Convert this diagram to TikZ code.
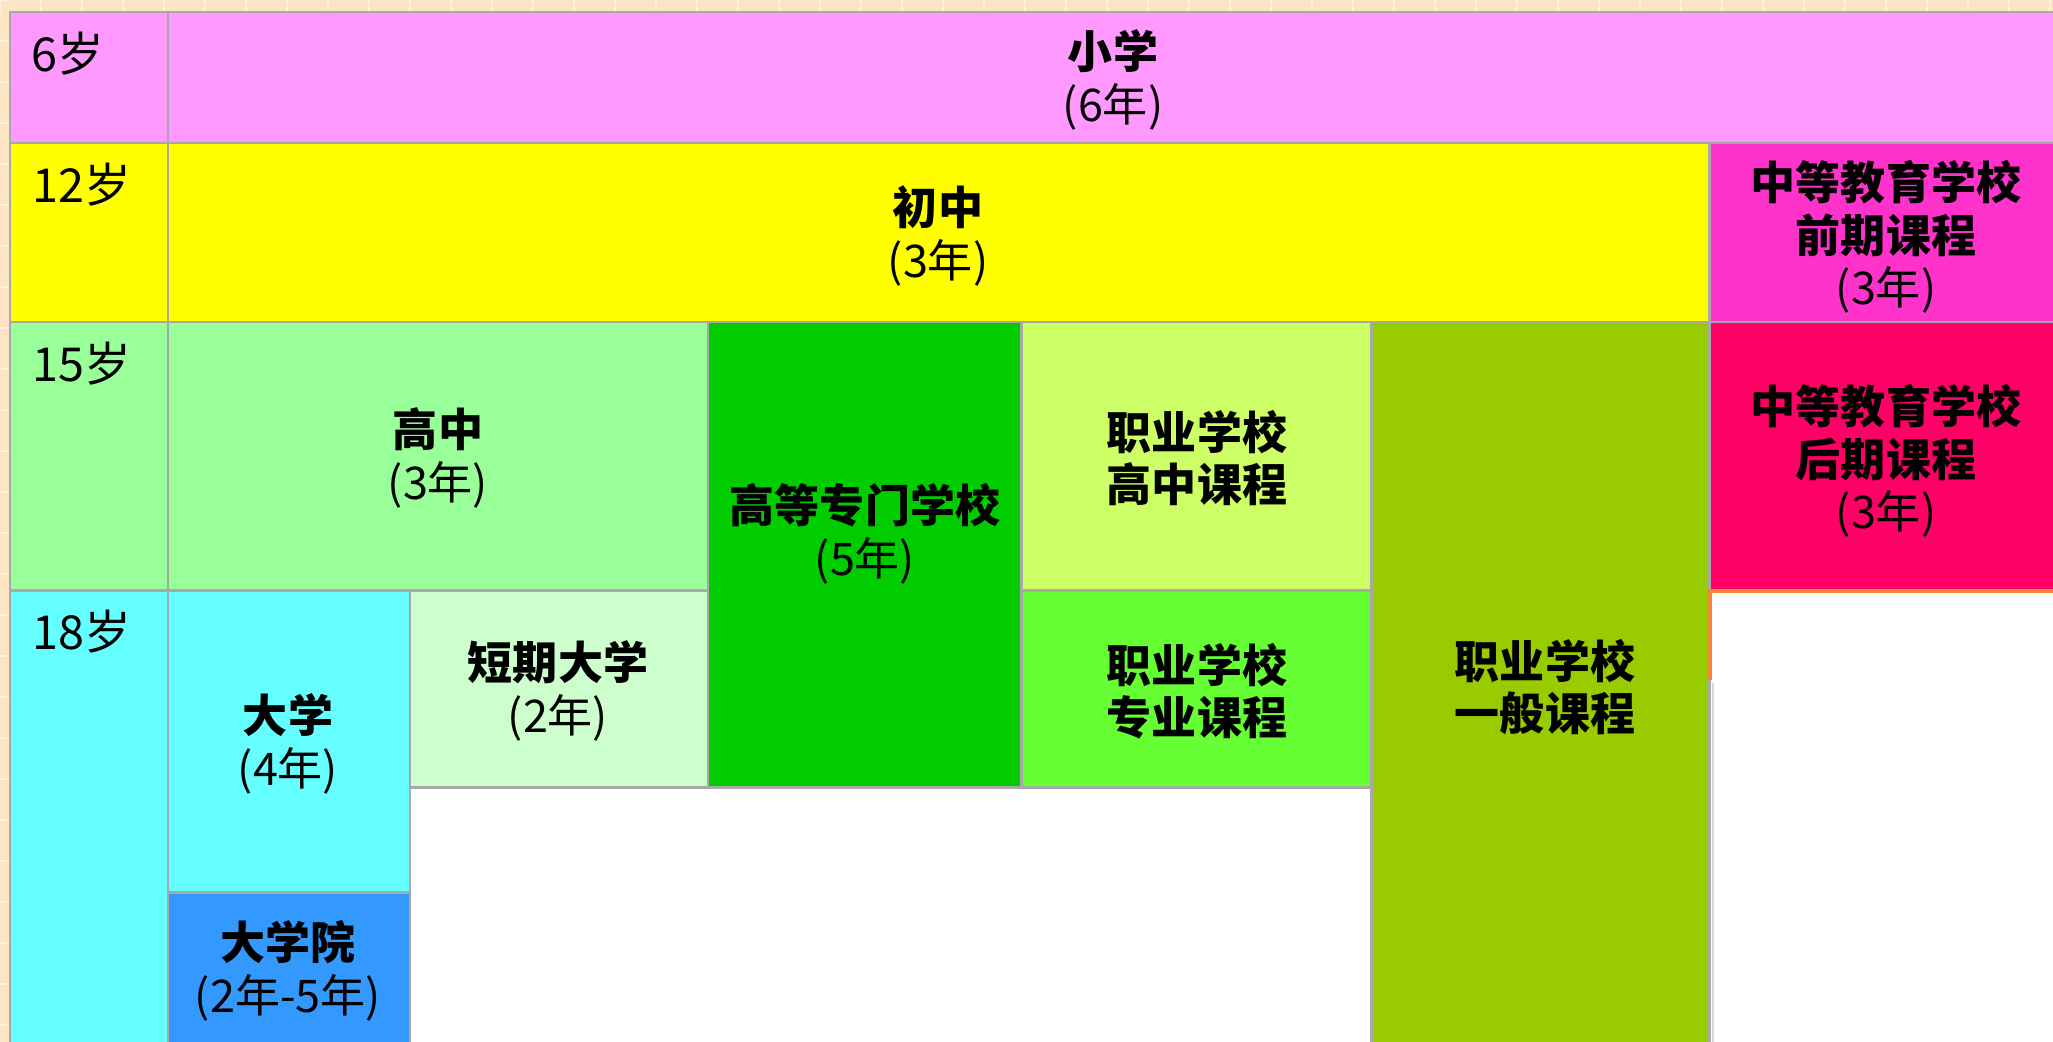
\documentclass[tikz,border=0pt]{standalone}
\usepackage{fontspec}
\setmainfont{Noto Sans CJK SC}
\usepackage{tikz}

\definecolor{bgbeige}{HTML}{FCE4C4}
\definecolor{bgtile}{HTML}{FEF1DE}
\definecolor{gridgrey}{HTML}{A8A8A8}
\definecolor{lightgrey}{HTML}{D8D8D8}
\definecolor{edgeorange}{HTML}{F5853A}
\definecolor{pinkA}{HTML}{FF99FF}
\definecolor{yellowA}{HTML}{FFFF00}
\definecolor{greenA}{HTML}{99FF99}
\definecolor{cyanA}{HTML}{66FFFF}
\definecolor{magentaA}{HTML}{FF33CC}
\definecolor{greenB}{HTML}{00CC00}
\definecolor{limeA}{HTML}{CCFF66}
\definecolor{oliveA}{HTML}{99CC00}
\definecolor{redA}{HTML}{FF0066}
\definecolor{paleA}{HTML}{CCFFCC}
\definecolor{greenC}{HTML}{66FF33}
\definecolor{blueA}{HTML}{3399FF}

\tikzset{
  cellbox/.style={draw=gridgrey, line width=0.85pt},
  title/.style={font=\bfseries\fontsize{12.8pt}{14.9pt}\selectfont, align=center, inner sep=0pt},
  agelabel/.style={font=\fontsize{13.3pt}{14.9pt}\selectfont, anchor=north west, inner sep=0pt},
}
\newcommand{\yr}[1]{{\mdseries (#1)}}

\begin{document}
\begin{tikzpicture}[x=0.01cm, y=-0.01cm]
    \useasboundingbox (0,0) rectangle (2053,1042);
    \clip (0,0) rectangle (2053,1042);
    \fill[bgbeige] (0,0) rectangle (2053,1042);
    \foreach \t in {0,41,...,2053} {
        \draw[bgtile, line width=0.8pt] (\t,0) -- (\t,12);
        \draw[bgtile, line width=0.8pt] (0,\t) -- (10,\t);
    }
    \fill[white] (10,12) rectangle (2070,1060);

    \filldraw[cellbox, fill=pinkA] (10,12) rectangle (168,143);
    \filldraw[cellbox, fill=yellowA] (10,143) rectangle (168,322);
    \filldraw[cellbox, fill=greenA] (10,322) rectangle (168,590);
    \filldraw[cellbox, fill=cyanA] (10,590) rectangle (168,1060);

    \filldraw[cellbox, fill=pinkA] (168,12) rectangle (2070,143);
    \filldraw[cellbox, fill=yellowA] (168,143) rectangle (1709,322);
    \filldraw[cellbox, fill=magentaA] (1709,143) rectangle (2070,322);
    \filldraw[cellbox, fill=greenA] (168,322) rectangle (708,590);
    \filldraw[cellbox, fill=greenB] (708,322) rectangle (1021,787);
    \filldraw[cellbox, fill=limeA] (1021,322) rectangle (1371,590);
    \filldraw[cellbox, fill=oliveA] (1371,322) rectangle (1709,1060);
    \filldraw[cellbox, fill=redA] (1709,322) rectangle (2070,590);
    \filldraw[cellbox, fill=cyanA] (168,590) rectangle (410,892);
    \filldraw[cellbox, fill=paleA] (410,590) rectangle (708,787);
    \filldraw[cellbox, fill=greenC] (1021,590) rectangle (1371,787);
    \filldraw[cellbox, fill=blueA] (168,892) rectangle (410,1060);

    \draw[lightgrey, line width=0.6pt] (1713,683) -- (1713,1060);
    \draw[edgeorange, line width=1pt] (1710,680) -- (1710,591) -- (2070,591);

    \node[agelabel] (age6) at (31,31) {6岁};
    \node[agelabel] (age12) at (32,162) {12岁};
    \node[agelabel] (age15) at (32,341) {15岁};
    \node[agelabel] (age18) at (32,609) {18岁};

    \node[title] (xiaoxue) at (1113,80) {小学\\\yr{6年}};
    \node[title] (chuzhong) at (938,236) {初中\\\yr{3年}};
    \node[title] (qianqi) at (1886,237) {中等教育学校\\前期课程\\\yr{3年}};
    \node[title] (gaozhong) at (438,458) {高中\\\yr{3年}};
    \node[title] (gaozhuan) at (865,534) {高等专门学校\\\yr{5年}};
    \node[title] (zhiye_gz) at (1197,458) {职业学校\\高中课程};
    \node[title] (houqi) at (1886,461) {中等教育学校\\后期课程\\\yr{3年}};
    \node[title] (zhiye_yb) at (1545,687) {职业学校\\一般课程};
    \node[title] (daxue) at (288,744) {大学\\\yr{4年}};
    \node[title] (duanqi) at (558,691) {短期大学\\\yr{2年}};
    \node[title] (zhiye_zy) at (1197,691) {职业学校\\专业课程};
    \node[title] (dayuan) at (288,971) {大学院\\\yr{2年-5年}};
\end{tikzpicture}
\end{document}
